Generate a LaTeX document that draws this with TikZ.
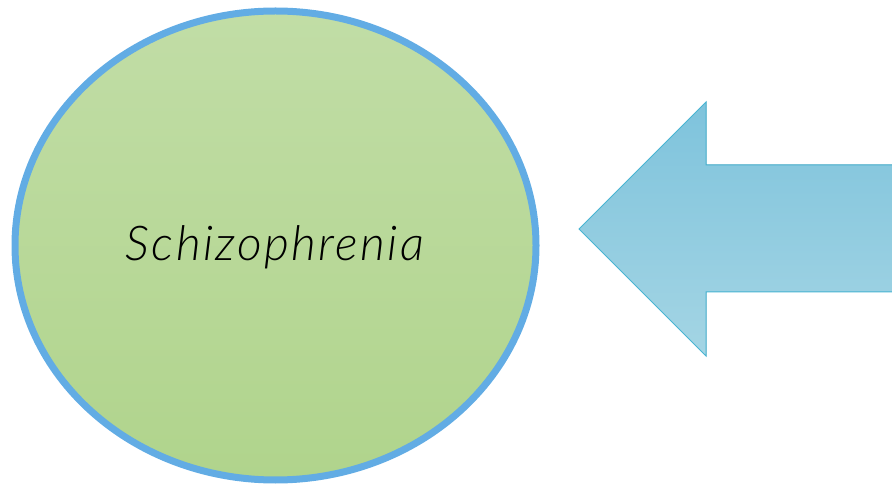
\documentclass[tikz,border=0pt]{standalone}
\usepackage{fontspec}
\setmainfont{Lato}
\newfontfamily\namefont{Lato Light Italic}[LetterSpace=5]
\usepackage{xcolor}
\usetikzlibrary{shapes.geometric, positioning}
\definecolor{ringblue}{RGB}{98, 172, 228}
\definecolor{greentop}{RGB}{193, 221, 166}
\definecolor{greenbot}{RGB}{176, 212, 140}
\definecolor{arrowtop}{RGB}{126, 195, 220}
\definecolor{arrowbot}{RGB}{164, 213, 228}
\definecolor{arrowedge}{RGB}{72, 180, 210}
\tikzset{
    disorder/.style={ellipse, draw=ringblue, line width=7pt, top color=greentop, bottom color=greenbot, minimum width=521pt, minimum height=469pt, inner sep=0pt},
    label/.style={font=\namefont\fontsize{48}{52}\selectfont, text=black},
    bigarrow/.style={draw=arrowedge, line width=1pt, top color=arrowtop, bottom color=arrowbot}
}
\begin{document}
\begin{tikzpicture}[x=1pt, y=-1pt]
        \useasboundingbox (0,0) rectangle (892,486);
        \clip (0,0) rectangle (892,486);
        \node[disorder] (schizo) at (275.5,245.5) {};
        \node[label] (name) at (275,247) {Schizophrenia};
        \filldraw[bigarrow] (579,229) -- (706,102) -- (706,165) -- (900,165) -- (900,292) -- (706,292) -- (706,356) -- cycle;
    \end{tikzpicture}
\end{document}
